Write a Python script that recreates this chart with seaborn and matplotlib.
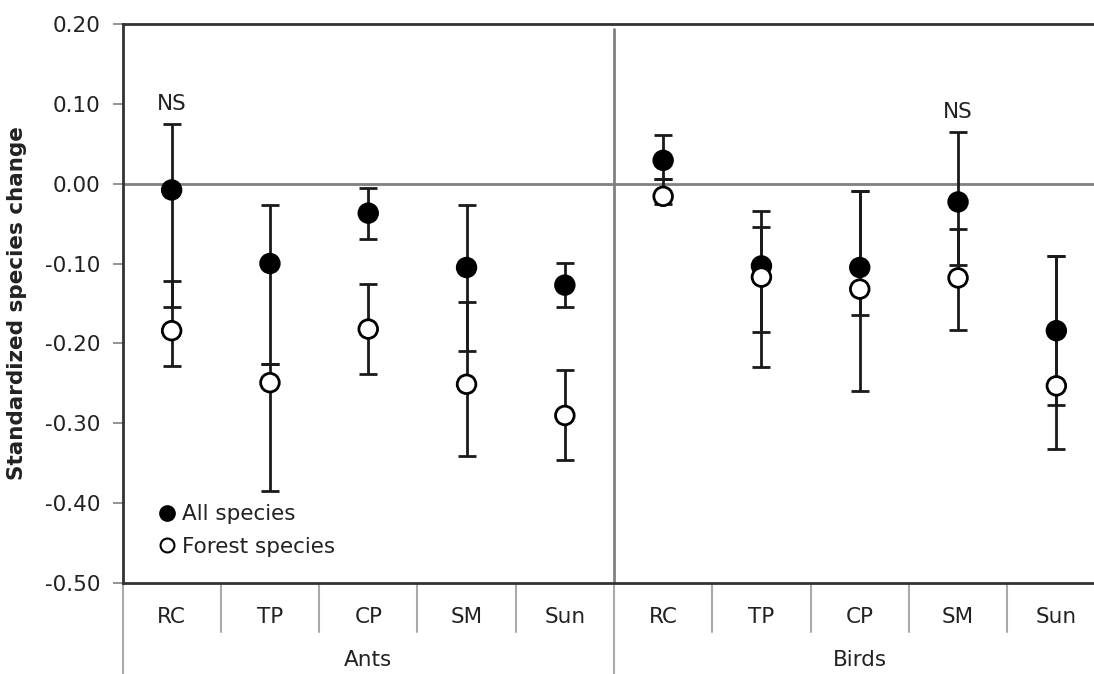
# Import Libraries
import seaborn as sns
import matplotlib.pyplot as plt
import matplotlib.transforms as mtransforms
import pandas as pd
from matplotlib.lines import Line2D

# Data
taxa = ['Ants', 'Birds']
systems = ['RC', 'TP', 'CP', 'SM', 'Sun', 'RC', 'TP', 'CP', 'SM', 'Sun']
all_mean = [-0.008, -0.100, -0.037, -0.105, -0.127, 0.029, -0.103, -0.105, -0.023, -0.184]
all_lo = [-0.155, -0.226, -0.069, -0.210, -0.155, 0.006, -0.186, -0.164, -0.102, -0.277]
all_hi = [0.074, -0.027, -0.005, -0.027, -0.099, 0.061, -0.034, -0.009, 0.065, -0.090]
forest_mean = [-0.184, -0.249, -0.182, -0.251, -0.290, -0.016, -0.117, -0.132, -0.118, -0.253]
forest_lo = [-0.228, -0.385, -0.238, -0.341, -0.346, -0.026, -0.229, -0.260, -0.183, -0.332]
forest_hi = [-0.122, -0.226, -0.125, -0.148, -0.233, 0.006, -0.054, -0.009, -0.057, -0.090]
ns_label = ['NS', '', '', '', '', '', '', '', 'NS', '']

sns.set_style("white")
plt.rcParams['font.family'] = ['DejaVu Sans']
txt = '#222222'
grey = '#808080'

pos = list(range(len(systems)))
df = pd.DataFrame({
    'pos': pos * 2,
    'value': all_mean + forest_mean,
    'series': ['All species'] * 10 + ['Forest species'] * 10,
})

fig = plt.figure(figsize=(10.94, 6.74), dpi=100)
ax = fig.add_axes([122.5 / 1094, 90.6 / 674, 983 / 1094, 559.8 / 674])

# reference lines
ax.axhline(0, color=grey, lw=2, zorder=1)
ax.axvline(4.5, ymin=0, ymax=0.99, color=grey, lw=2, zorder=1)

# error bars
for mean, lo, hi in [(all_mean, all_lo, all_hi), (forest_mean, forest_lo, forest_hi)]:
    yerr = [[m - l for m, l in zip(mean, lo)], [h - m for m, h in zip(mean, hi)]]
    ax.errorbar(pos, mean, yerr=yerr, fmt='none', ecolor='#1a1a1a',
                elinewidth=2, capsize=6.5, capthick=2, zorder=2)

# points
sns.scatterplot(data=df, x='pos', y='value', hue='series',
                palette={'All species': 'black', 'Forest species': 'white'},
                edgecolor='black', linewidth=2, s=180, legend=False, zorder=3, ax=ax)

for p, hi, lab in zip(pos, all_hi, ns_label):
    if lab:
        ax.text(p, hi + 0.025, lab, ha='center', va='center', fontsize=15.5, color=txt)

ax.set_xlim(-0.5, 9.5)
ax.set_ylim(-0.5, 0.2)
ax.set_yticks([0.2, 0.1, 0.0, -0.1, -0.2, -0.3, -0.4, -0.5])
ax.set_yticklabels([f'{v:.2f}' for v in ax.get_yticks()], fontsize=15.5, color=txt)
ax.tick_params(axis='y', direction='out', length=7, width=1.2, color=grey, pad=9, left=True)
ax.set_xticks([])
ax.set_xlabel('')
ax.set_ylabel('Standardized species change', fontsize=15.5, fontweight='bold', color=txt)
ax.yaxis.set_label_coords(-0.097, 0.5)

for side in ['left', 'bottom', 'top']:
    ax.spines[side].set_color('#333333')
    ax.spines[side].set_linewidth(2)
ax.spines['right'].set_visible(False)

# category axis below the plot
trans = mtransforms.blended_transform_factory(ax.transData, ax.transAxes)
for p, s in zip(pos, systems):
    ax.text(p, -0.06, s, transform=trans, ha='center', va='center', fontsize=15.5, color=txt)
for i, t in enumerate(taxa):
    ax.text(2 + 5 * i, -0.137, t, transform=trans, ha='center', va='center', fontsize=15.5, color=txt)
for xs in [0.5, 1.5, 2.5, 3.5, 5.5, 6.5, 7.5, 8.5]:
    ax.plot([xs, xs], [0, -0.087], transform=trans, color='#aaaaaa', lw=1.5, clip_on=False)
for xs in [-0.5, 4.5]:
    ax.plot([xs, xs], [0, -0.2], transform=trans, color='#aaaaaa', lw=1.5, clip_on=False)

handles = [
    Line2D([], [], marker='o', ls='none', markersize=11, markerfacecolor='black',
           markeredgecolor='black', label='All species'),
    Line2D([], [], marker='o', ls='none', markersize=10, markerfacecolor='white',
           markeredgecolor='black', markeredgewidth=1.5, label='Forest species'),
]
ax.legend(handles=handles, loc='upper left', bbox_to_anchor=(0.028, 0.161), frameon=False,
          fontsize=15.5, handlelength=0.6, handletextpad=0.4, labelspacing=0.6,
          borderpad=0, labelcolor=txt)

plt.savefig('out.png', dpi=100)
